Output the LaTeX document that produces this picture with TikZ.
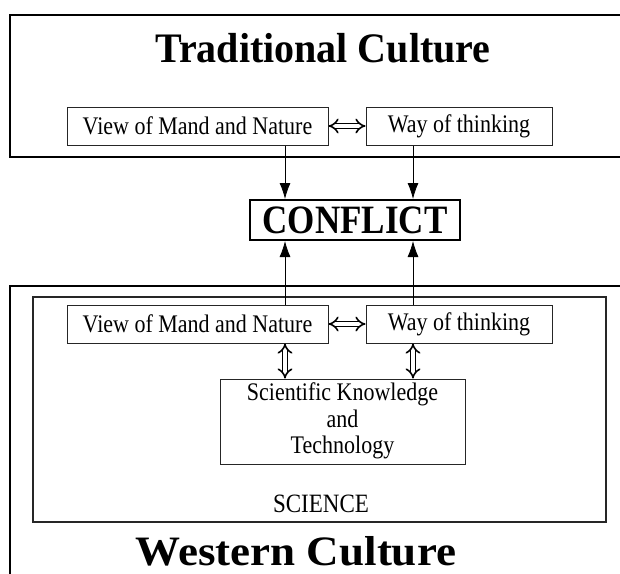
\documentclass[tikz,border=0pt]{standalone}
\usepackage{fontspec}
\setmainfont{Liberation Serif}
\usetikzlibrary{arrows.meta}
\newcommand\tallTxt[1]{\scalebox{1}[1.15]{#1}}
\tikzset{
  box/.style={draw=black!85, line width=1pt, inner sep=0pt, align=center, font=\fontsize{22}{24}\selectfont},
  title/.style={inner sep=0pt, font=\bfseries\fontsize{40}{44}\selectfont},
  arr/.style={line width=0.8pt, -{Latex[length=16pt,width=11pt]}},
  dbl/.style={double, double distance=3.4pt, line width=1.6pt, {Implies}-{Implies}},
  frame/.style={line width=2.2pt}
}
\begin{document}
\begin{tikzpicture}[x=1pt,y=-1pt]
\useasboundingbox (0,0) rectangle (620,573);
% outer frames
\draw[frame] (625,15) -- (10,15) -- (10,157) -- (625,157);
\draw[frame] (625,286) -- (10,286) -- (10,580);
\draw[line width=1.2pt, black!85] (33,297) rectangle (606,522);
% titles
\node[title, anchor=base] (tc) at (323,62) {\scalebox{1}[1.05]{Traditional Culture}};
\node[title, anchor=base, font=\bfseries\fontsize{45}{48}\selectfont] (wc) at (296,565) {\scalebox{1}[0.93]{Western Culture}};
% top boxes
\node[box, minimum width=261pt, minimum height=38pt] (tv) at (197.5,126) {\tallTxt{View of Mand and Nature}};
\node[box, minimum width=186pt, minimum height=38pt] (tw) at (459,126) {\tallTxt{Way of thinking}};
% conflict
\node[draw, line width=2pt, inner sep=0pt, minimum width=210pt, minimum height=40pt, font=\bfseries\fontsize{35}{38}\selectfont] (cf) at (355,220) {\tallTxt{CONFLICT}};
% bottom boxes
\node[box, minimum width=261pt, minimum height=38pt] (bv) at (197.5,324) {\tallTxt{View of Mand and Nature}};
\node[box, minimum width=186pt, minimum height=38pt] (bw) at (459,324) {\tallTxt{Way of thinking}};
\node[box, minimum width=245pt, minimum height=85pt] (sk) at (342.5,421.5) {\tallTxt{\begin{tabular}{@{}c@{}}Scientific Knowledge\\[-1pt] and\\[-1pt] Technology\end{tabular}}};
\node[inner sep=0pt, font=\fontsize{23}{24}\selectfont] (sc) at (321,504) {\tallTxt{SCIENCE}};
% arrows to conflict
\draw[arr] (tv.south -| 285,0) -- (cf.north -| 285,0);
\draw[arr] (tw.south -| 413,0) -- (cf.north -| 413,0);
\draw[arr] (bv.north -| 285,0) -- (cf.south -| 285,0);
\draw[arr] (bw.north -| 413,0) -- (cf.south -| 413,0);
% double arrows
\draw[dbl] (tv.east) -- (tw.west);
\draw[dbl] (bv.east) -- (bw.west);
\draw[dbl] (bv.south -| 285,0) -- (sk.north -| 285,0);
\draw[dbl] (bw.south -| 413,0) -- (sk.north -| 413,0);
\end{tikzpicture}
\end{document}
